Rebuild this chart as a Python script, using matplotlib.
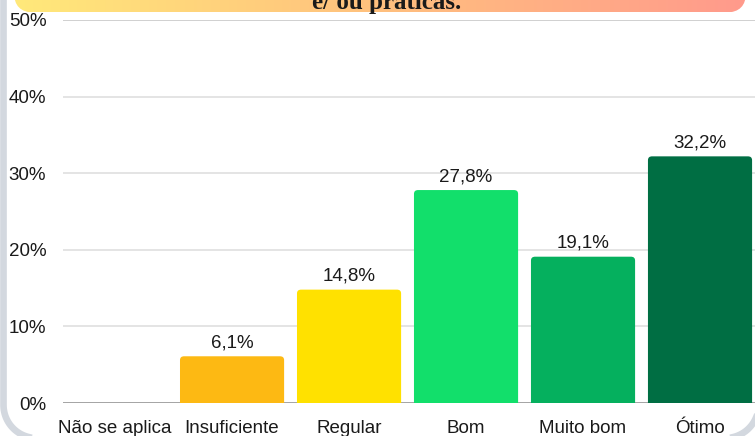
import numpy as np
import matplotlib.pyplot as plt
from matplotlib.patches import FancyBboxPatch
from matplotlib.colors import LinearSegmentedColormap

categories = ["Não se aplica", "Insuficiente", "Regular", "Bom", "Muito bom", "Ótimo"]
values = [0.0, 6.1, 14.8, 27.8, 19.1, 32.2]
value_labels = ["", "6,1%", "14,8%", "27,8%", "19,1%", "32,2%"]
colors = ["#cccccc", "#FDB913", "#FFE100", "#12DF6B", "#05B05E", "#006E43"]
y_ticks = [0, 10, 20, 30, 40, 50]
y_tick_labels = ["0%", "10%", "20%", "30%", "40%", "50%"]
title_tail = "e/ ou práticas."

W, H = 755, 436
plt.rcParams['font.family'] = ['Liberation Sans', 'DejaVu Sans']


def card_outline(x0, x1, y_bottom, r):
    # open outline: left side, rounded bottom corners, right side (pixel coords, y down)
    t = np.linspace(0, np.pi / 2, 30)
    left_arc_x = x0 + r - r * np.cos(t)
    left_arc_y = y_bottom - r + r * np.sin(t)
    right_arc_x = x1 - r + r * np.sin(t)
    right_arc_y = y_bottom - r * (1 - np.cos(t))
    xs = np.concatenate([[x0], left_arc_x, right_arc_x, [x1]])
    ys = np.concatenate([[-20], left_arc_y, right_arc_y, [-20]])
    return xs, ys


def main():
    fig = plt.figure(figsize=(W / 100, H / 100), dpi=100)
    fig.patch.set_facecolor("white")

    # background layer in pixel coordinates (card border + title banner)
    bax = fig.add_axes([0, 0, 1, 1], zorder=1)
    bax.axis("off")

    cx, cy = card_outline(3.5, 758.5, 438, 33)
    bax.plot(cx, cy, color="#d3d8df", linewidth=4.8, zorder=0)

    grad = np.linspace(0, 1, 256).reshape(1, -1)
    cmap = LinearSegmentedColormap.from_list("banner", ["#FFE97A", "#FFC07E", "#FF9A8C"])
    im = bax.imshow(grad, cmap=cmap, extent=[14, 746, 12.5, -40], aspect="auto", zorder=1)
    clip = FancyBboxPatch((14, -40), 732, 52.5, boxstyle="round,pad=0,rounding_size=20",
                          facecolor="none", edgecolor="none", transform=bax.transData)
    bax.add_patch(clip)
    im.set_clip_path(clip)
    bax.text(387, 9.5, title_tail, ha="center", va="baseline", fontsize=18,
             family=["Liberation Serif", "DejaVu Serif"], fontweight="bold",
             color="#1a1a1a", zorder=2)
    bax.set_autoscale_on(False)
    bax.set_xlim(0, W)
    bax.set_ylim(H, 0)

    ax = fig.add_axes([63 / W, 1 - 403 / H, (W - 63) / W, (403 - 20) / H], zorder=2)
    ax.patch.set_alpha(0)
    x = np.arange(len(categories))
    bars = ax.bar(x, values, width=0.89, color=colors, zorder=3)
    # rounded tops
    r_x, r_y = 0.035, 0.5
    for b, c, v in zip(bars, colors, values):
        b.set_visible(False)
        if v <= 0:
            continue
        p = FancyBboxPatch((b.get_x(), b.get_y() - 1), b.get_width(), b.get_height() + 1,
                           boxstyle="round,pad=0,rounding_size=%f" % r_x,
                           mutation_aspect=r_y / r_x, facecolor=c, edgecolor="none",
                           zorder=3, clip_on=True)
        ax.add_patch(p)
    for xi, v, lab in zip(x, values, value_labels):
        if lab:
            ax.annotate(lab, (xi, v), xytext=(0, 3.5), textcoords="offset points",
                        ha="center", va="bottom", fontsize=13.5, color="#1a1a1a")

    ax.set_xlim(-0.445, 5.47)
    ax.set_ylim(0, 50)
    ax.set_yticks(y_ticks)
    ax.set_yticklabels(y_tick_labels)
    ax.set_xticks(x)
    ax.set_xticklabels(categories)
    ax.tick_params(axis="y", length=0, pad=12, labelsize=13.5, labelcolor="#1a1a1a")
    ax.tick_params(axis="x", length=0, pad=12, labelsize=13.5, labelcolor="#1a1a1a")
    for s in ax.spines.values():
        s.set_visible(False)
    for t in y_ticks:
        col = "#8c8c8c" if t == 0 else ("#c4c4c4" if t == 50 else "#dcdcdc")
        ax.axhline(t, color=col, linewidth=1.1, zorder=1)

    fig.savefig("out.png", dpi=100)


if __name__ == '__main__':
    main()
